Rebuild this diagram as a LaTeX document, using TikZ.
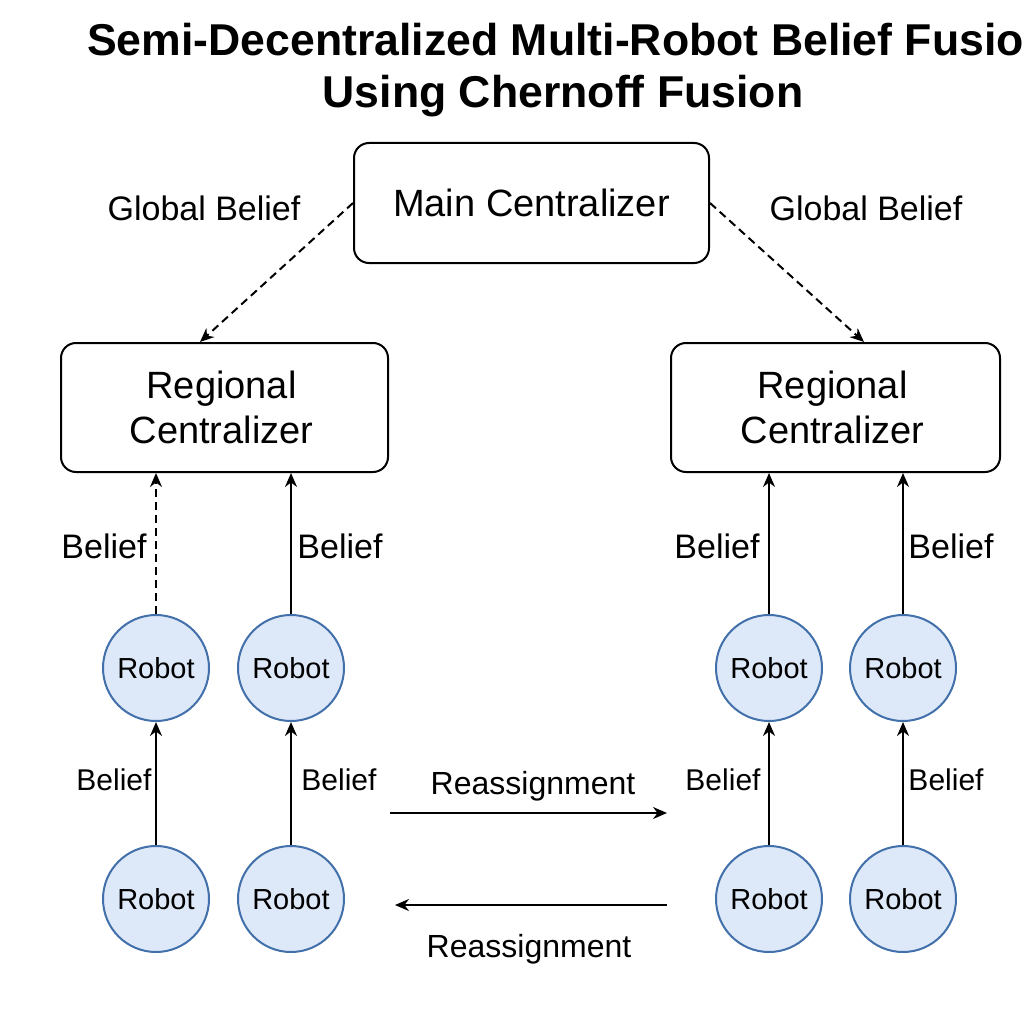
\documentclass[tikz,border=0pt]{standalone}
\usepackage{fontspec}
\setmainfont{Liberation Sans}
\usetikzlibrary{arrows.meta}
\definecolor{robfill}{RGB}{221,232,248}
\definecolor{robdraw}{RGB}{66,112,170}
\begin{document}
\begin{tikzpicture}[x=1pt,y=-1pt,
  box/.style={draw,line width=2pt,rounded corners=15pt,inner sep=0pt,align=center},
  robot/.style={circle,draw=robdraw,fill=robfill,line width=2pt,minimum size=106pt,inner sep=0pt,font=\fontsize{29}{32}\selectfont},
  lbl/.style={inner sep=0pt,anchor=base},
  arr/.style={line width=2pt,-{Stealth[length=14pt,width=12pt]}},
  darr/.style={arr,dash pattern=on 8pt off 5pt}]
\useasboundingbox (0,0) rectangle (1024,1024);
\fill[white] (0,0) rectangle (1024,1024);
% title
\node[lbl,anchor=base west,font=\fontsize{44.6}{46}\selectfont\bfseries] (t1) at (87,56) {Semi-Decentralized Multi-Robot Belief Fusion};
\node[lbl,font=\fontsize{44.6}{46}\selectfont\bfseries] (t2) at (563,108) {Using Chernoff Fusion};
% boxes
\node[box,minimum width=355pt,minimum height=120pt,font=\fontsize{38}{40}\selectfont] (main) at (531.5,203) {Main Centralizer};
\node[box,minimum width=327pt,minimum height=129pt] (reg1) at (224.5,407.5) {};
\node[box,minimum width=329pt,minimum height=129pt] (reg2) at (835.5,407.5) {};
\node[align=center,inner sep=0pt,font=\fontsize{38}{45}\selectfont] (reg1t) at ([xshift=-3pt]reg1.center) {Regional\\Centralizer};
\node[align=center,inner sep=0pt,font=\fontsize{38}{45}\selectfont] (reg2t) at ([xshift=-3pt]reg2.center) {Regional\\Centralizer};
% robots
\node[robot] (r1) at (156,668) {Robot};
\node[robot] (r2) at (291,668) {Robot};
\node[robot] (r3) at (769,668) {Robot};
\node[robot] (r4) at (903,668) {Robot};
\node[robot] (r5) at (156,899) {Robot};
\node[robot] (r6) at (291,899) {Robot};
\node[robot] (r7) at (769,899) {Robot};
\node[robot] (r8) at (903,899) {Robot};
% global belief
\draw[darr] (main.west) -- ([xshift=-24.5pt]reg1.north);
\draw[darr] (main.east) -- ([xshift=28.5pt]reg2.north);
\node[lbl,font=\fontsize{34}{36}\selectfont] (gb1) at (204,221) {Global Belief};
\node[lbl,font=\fontsize{34}{36}\selectfont] (gb2) at (866,221) {Global Belief};
% robot to regional
\draw[darr] (r1.north) -- (r1.north |- reg1.south);
\draw[arr] (r2.north) -- (r2.north |- reg1.south);
\draw[arr] (r3.north) -- (r3.north |- reg2.south);
\draw[arr] (r4.north) -- (r4.north |- reg2.south);
\node[lbl,font=\fontsize{34}{36}\selectfont] (b1) at (104,558) {Belief};
\node[lbl,font=\fontsize{34}{36}\selectfont] (b2) at (340,558) {Belief};
\node[lbl,font=\fontsize{34}{36}\selectfont] (b3) at (717,558) {Belief};
\node[lbl,font=\fontsize{34}{36}\selectfont] (b4) at (951,558) {Belief};
% robot to robot
\draw[arr] (r5) -- (r1);
\draw[arr] (r6) -- (r2);
\draw[arr] (r7) -- (r3);
\draw[arr] (r8) -- (r4);
\node[lbl,font=\fontsize{30}{32}\selectfont] (b5) at (114,790) {Belief};
\node[lbl,font=\fontsize{30}{32}\selectfont] (b6) at (339,790) {Belief};
\node[lbl,font=\fontsize{30}{32}\selectfont] (b7) at (723,790) {Belief};
\node[lbl,font=\fontsize{30}{32}\selectfont] (b8) at (946,790) {Belief};
% reassignment
\coordinate (ra1) at (390,813);
\coordinate (ra2) at (667,813);
\coordinate (rb1) at (667,905);
\coordinate (rb2) at (395,905);
\draw[arr] (ra1) -- (ra2);
\draw[arr] (rb1) -- (rb2);
\node[lbl,font=\fontsize{32}{34}\selectfont] (re1) at (533,794) {Reassignment};
\node[lbl,font=\fontsize{32}{34}\selectfont] (re2) at (529,957) {Reassignment};
\end{tikzpicture}
\end{document}
